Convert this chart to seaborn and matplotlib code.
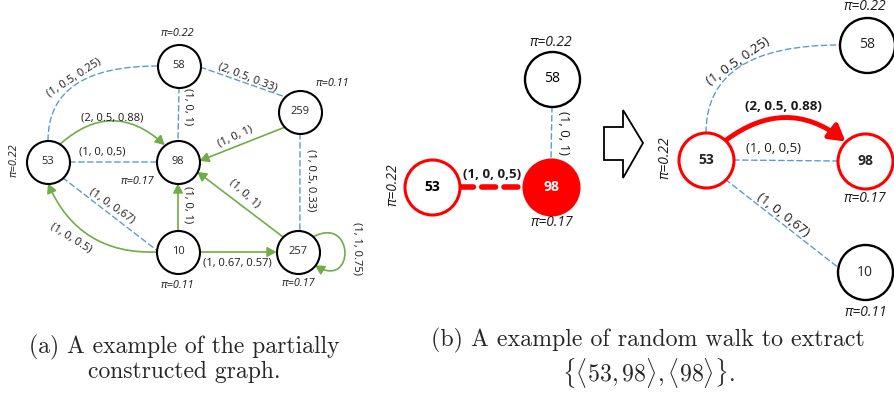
# =========================================
# 1. IMPORT LIBRARY
# =========================================
import numpy as np
import pandas as pd
import seaborn as sns
import matplotlib.pyplot as plt
from matplotlib.patches import FancyArrowPatch, Polygon
from matplotlib.path import Path

sns.set_theme(style="white")
plt.rcParams['font.family'] = ['Open Sans', 'DejaVu Sans']
plt.rcParams['mathtext.fontset'] = 'cm'

BLUE = '#5B9BD5'
GREEN = '#70AD47'
RED = '#FF0000'

# =========================================
# 2. DATA
# =========================================
# panel (a): partially constructed graph
a_nodes = ['58', '259', '53', '98', '10', '257']
a_x = [179, 300, 48, 178, 178, 298]
a_y = [66, 112, 162, 162, 252, 252]
a_pi = ['0.22', '0.11', '0.22', '0.17', '0.11', '0.17']

# edges: (from, to, kind, label)
a_edges = [
    ('53', '58', 'dash', '(1, 0.5, 0.25)'),
    ('58', '259', 'dash', '(2, 0.5, 0.33)'),
    ('58', '98', 'dash', '(1, 0, 1)'),
    ('53', '98', 'arrow', '(2, 0.5, 0.88)'),
    ('53', '98', 'dash', '(1, 0, 0,5)'),
    ('259', '98', 'arrow', '(1, 0, 1)'),
    ('259', '257', 'dash', '(1, 0.5, 0.33)'),
    ('53', '10', 'dash', '(1, 0, 0,67)'),
    ('10', '53', 'arrow', '(1, 0, 0.5)'),
    ('10', '98', 'arrow', '(1, 0, 1)'),
    ('257', '98', 'arrow', '(1, 0, 1)'),
    ('10', '257', 'arrow', '(1, 0.67, 0.57)'),
    ('257', '257', 'arrow', '(1, 1, 0.75)'),
]

# panel (b) left: current step
bl_nodes = ['58', '53', '98']
bl_x = [552, 432, 551]
bl_y = [79, 187, 187]
bl_pi = ['0.22', '0.22', '0.17']
bl_edges = [
    ('58', '98', 'dash', '(1, 0, 1)'),
    ('53', '98', 'walk', '(1, 0, 0,5)'),
]

# panel (b) right: next step from 53
br_nodes = ['53', '58', '98', '10']
br_x = [706, 867, 865, 865]
br_y = [160, 45, 161, 272]
br_pi = ['0.22', '0.22', '0.17', '0.11']
br_edges = [
    ('53', '58', 'dash', '(1, 0.5, 0.25)'),
    ('53', '98', 'walk', '(2, 0.5, 0.88)'),
    ('53', '98', 'dash', '(1, 0, 0,5)'),
    ('53', '10', 'dash', '(1, 0, 0,67)'),
]

captions = ['(a) A example of the partially\nconstructed graph.',
            '(b) A example of random walk to extract\n'
            r'$\{\langle 53, 98\rangle, \langle 98\rangle\}$.']

# =========================================
# 3. LAYOUT (geometry of edges / labels)
# =========================================
# attach angles on the circles, connection style, label pos + rotation
a_geom = [
    (90, 180, 'angle3,angleA=90,angleB=0', (74, 78, 33)),
    (-3, 135, 'arc3', (248, 77, -21)),
    (-90, 90, 'arc3', (188, 107, -90)),
    (56, 128, 'arc3,rad=-0.45', (112, 118, 0)),
    (0, 180, 'arc3', (102, 152, 0)),
    (225, 3, 'arc3', (235, 137, 25)),
    (-90, 85, 'arc3', (311, 180, -90)),
    (-47, 175, 'arc3', (112, 206, -35)),
    (180, -90, 'arc3,rad=-0.34', (71, 238, -32)),
    (90, -90, 'arc3', (188, 205, -90)),
    (135, -27, 'arc3', (245, 193, -42)),
    (0, 180, 'arc3', (237, 263, 0)),
    (45, -38, 'loop', (357, 248, -90)),
]
bl_geom = [
    (-90, 90, 'arc3', (563, 133, -90)),
    (0, 180, 'arc3', (492, 174, 0)),
]
br_geom = [
    (90, 180, 'angle3,angleA=90,angleB=0', (738, 61, 35)),
    (45, 135, 'arc3,rad=-0.38', (783, 107, 0)),
    (0, 180, 'arc3', (773, 148, 0)),
    (-45, 170, 'arc3', (783, 215, -38)),
]

a_pi_pos = [(177, 33, 0), (332, 84, 0), (14, 160, 90),
            (137, 181, 0), (177, 286, 0), (298, 284, 0)]
bl_pi_pos = [(551, 42, 0), (393, 185, 90), (552, 223, 0)]
br_pi_pos = [(665, 158, 90), (865, 7, 0), (865, 198, 0), (866, 312, 0)]


def on_circle(c, r, ang):
    t = np.deg2rad(ang)
    return c[0] + r * np.cos(t), c[1] - r * np.sin(t)


def draw_graph(ax, names, xs, ys, r, edges, geom, fs, bold_walk=False):
    pos = dict(zip(names, zip(xs, ys)))
    for (u, v, kind, lab), (au, av, conn, (lx, ly, rot)) in zip(edges, geom):
        p = on_circle(pos[u], r, au)
        q = on_circle(pos[v], r, av)
        if kind == 'dash':
            kw = dict(arrowstyle='-', color=BLUE, lw=1.0, linestyle=(0, (4, 2.5)))
        elif kind == 'arrow':
            kw = dict(arrowstyle='-|>,head_length=0.55,head_width=0.3',
                      mutation_scale=10, color=GREEN, lw=1.2)
        elif bold_walk and kind == 'walk':
            kw = dict(arrowstyle='-', color=RED, lw=4.0, linestyle=(0, (2.5, 1.5)))
        else:
            kw = dict(arrowstyle='-|>,head_length=0.55,head_width=0.32',
                      mutation_scale=17, color=RED, lw=3.5)
        if conn == 'loop':
            cx, cy = pos[u]
            path = Path([p, (cx + 57, cy - 37), (cx + 57, cy + 38), q],
                        [Path.MOVETO, Path.CURVE4, Path.CURVE4, Path.CURVE4])
            arr = FancyArrowPatch(path=path, **kw)
        else:
            arr = FancyArrowPatch(p, q, connectionstyle=conn,
                                  shrinkA=0, shrinkB=0, **kw)
        arr.set_zorder(2)
        ax.add_patch(arr)
        weight = 'bold' if kind == 'walk' else 'normal'
        ax.text(lx, ly, lab, fontsize=fs, rotation=rot, ha='center', va='center',
                rotation_mode='anchor', color='#1a1a1a', fontweight=weight,
                zorder=4)


def draw_pi(ax, pis, places, fs):
    for val, (x, y, rot) in zip(pis, places):
        ax.text(x, y, 'π=' + val, fontsize=fs, style='italic', rotation=rot,
                ha='center', va='center', color='#1a1a1a', zorder=4)


# =========================================
# 4. FIGURE
# =========================================
fig = plt.figure(figsize=(8.94, 4.03), dpi=100)
ax = fig.add_axes([0, 0, 1, 1])

R_A = 21.5
R_B = 27.5
S_A = (2 * R_A * 0.72) ** 2
S_B = (2 * R_B * 0.72) ** 2

# panel (a)
sns.scatterplot(x=a_x, y=a_y, s=S_A, color='white', edgecolor='black',
                linewidth=1.5, ax=ax, zorder=3, legend=False)
for n, x, y in zip(a_nodes, a_x, a_y):
    ax.text(x, y, n, fontsize=8, ha='center', va='center', zorder=4)
draw_graph(ax, a_nodes, a_x, a_y, R_A, a_edges, a_geom, 8)
draw_pi(ax, a_pi, a_pi_pos, 7.8)

# panel (b) left
sns.scatterplot(x=bl_x[:1], y=bl_y[:1], s=S_B, color='white', edgecolor='black',
                linewidth=1.7, ax=ax, zorder=3, legend=False)
sns.scatterplot(x=bl_x[1:2], y=bl_y[1:2], s=S_B, color='white', edgecolor=RED,
                linewidth=2.2, ax=ax, zorder=3, legend=False)
sns.scatterplot(x=bl_x[2:], y=bl_y[2:], s=S_B, color=RED, edgecolor=RED,
                linewidth=2.2, ax=ax, zorder=3, legend=False)
for n, x, y, c, w in zip(bl_nodes, bl_x, bl_y, ['black', 'black', 'white'],
                         ['normal', 'bold', 'bold']):
    ax.text(x, y, n, fontsize=10, ha='center', va='center', color=c,
            fontweight=w, zorder=4)
draw_graph(ax, bl_nodes, bl_x, bl_y, R_B, bl_edges, bl_geom, 9.5, bold_walk=True)
draw_pi(ax, bl_pi, bl_pi_pos, 10)

# hollow arrow between the two steps
shaft_l, head_l, tip = 604, 623, 643
shaft_t, shaft_b, head_t, head_b, mid = 127, 160, 110, 178, 143
ax.add_patch(Polygon([(shaft_l, shaft_t), (head_l, shaft_t), (head_l, head_t),
                      (tip, mid), (head_l, head_b), (head_l, shaft_b),
                      (shaft_l, shaft_b)], closed=True, facecolor='white',
                     edgecolor='black', lw=1.3, zorder=3))

# panel (b) right
sns.scatterplot(x=[br_x[0], br_x[2]], y=[br_y[0], br_y[2]], s=S_B, color='white',
                edgecolor=RED, linewidth=2.2, ax=ax, zorder=3, legend=False)
sns.scatterplot(x=[br_x[1], br_x[3]], y=[br_y[1], br_y[3]], s=S_B, color='white',
                edgecolor='black', linewidth=1.7, ax=ax, zorder=3, legend=False)
for n, x, y, w in zip(br_nodes, br_x, br_y, ['bold', 'normal', 'bold', 'normal']):
    ax.text(x, y, n, fontsize=10, ha='center', va='center', fontweight=w,
            zorder=4)
draw_graph(ax, br_nodes, br_x, br_y, R_B, br_edges, br_geom, 9.5)
draw_pi(ax, br_pi, br_pi_pos, 10)

# captions
ax.text(184, 359, captions[0], fontsize=17, family='cmr10', ha='center',
        va='center', linespacing=1.1)
ax.text(648, 359, captions[1], fontsize=17.2, family='cmr10', ha='center',
        va='center', linespacing=1.1)

ax.set_xlim(0, 894)
ax.set_ylim(403, 0)
ax.axis('off')

fig.savefig('out.png', dpi=100)
